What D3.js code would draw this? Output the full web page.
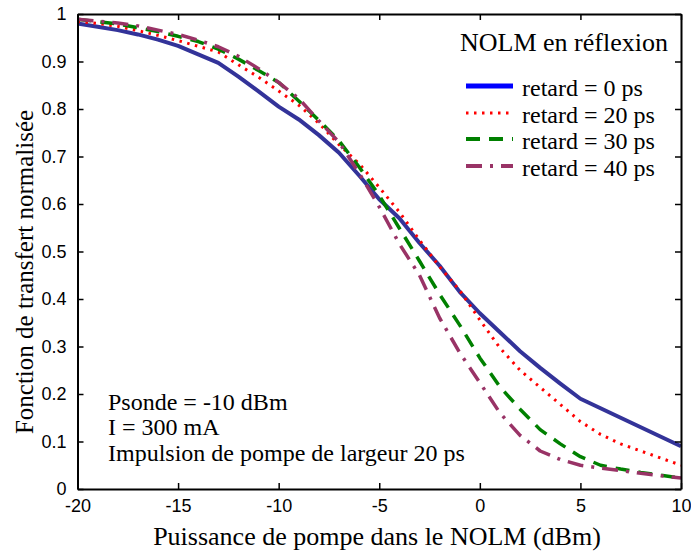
<!DOCTYPE html>
<html><head><meta charset="utf-8">
<script src="https://cdn.jsdelivr.net/npm/d3@7"></script>
<style>body{margin:0;background:#fff}svg{display:block}</style>
</head><body>
<svg id="c" width="691" height="552"></svg>
<script>
const pump = [-20,-19,-18,-17,-16,-15,-14,-13,-12,-11,-10,-9,-8,-7,-6,-5,-4,-3,-2,-1,0,1,2,3,4,5,6,7,8,9,10];
const delay0  = [0.980,0.973,0.966,0.957,0.946,0.933,0.915,0.897,0.868,0.837,0.805,0.778,0.745,0.708,0.660,0.610,0.570,0.518,0.470,0.415,0.370,0.330,0.290,0.255,0.222,0.190,0.170,0.150,0.130,0.110,0.090];
const delay20 = [0.984,0.980,0.974,0.965,0.955,0.944,0.932,0.920,0.893,0.867,0.838,0.808,0.770,0.725,0.685,0.635,0.583,0.524,0.468,0.418,0.356,0.297,0.250,0.214,0.178,0.142,0.115,0.095,0.080,0.065,0.050];
const delay30 = [0.989,0.984,0.979,0.971,0.963,0.953,0.942,0.926,0.905,0.881,0.856,0.817,0.776,0.733,0.678,0.618,0.549,0.480,0.410,0.345,0.276,0.215,0.168,0.125,0.095,0.068,0.050,0.042,0.035,0.029,0.023];
const delay40 = [0.989,0.985,0.981,0.975,0.966,0.957,0.945,0.931,0.911,0.885,0.856,0.822,0.775,0.730,0.665,0.594,0.516,0.450,0.360,0.287,0.224,0.160,0.113,0.080,0.062,0.050,0.044,0.039,0.033,0.028,0.023];
const seriesNames = ["retard = 0 ps","retard = 20 ps","retard = 30 ps","retard = 40 ps"];
const xTicks = [-20,-15,-10,-5,0,5,10];
const xTickLabels = ["-20","-15","-10","-5","0","5","10"];
const yTicks = [0,0.1,0.2,0.3,0.4,0.5,0.6,0.7,0.8,0.9,1];
const yTickLabels = ["0","0.1","0.2","0.3","0.4","0.5","0.6","0.7","0.8","0.9","1"];
const legendTitle = "NOLM en réflexion";
const notes = ["Psonde = -10 dBm","I = 300 mA","Impulsion de pompe de largeur 20 ps"];
const xTitle = "Puissance de pompe dans le NOLM (dBm)";
const yTitle = "Fonction de transfert normalisée";

const styles = [
  {color:"#333399", legendColor:"#0000ff", width:4, dash:null, lwidth:5},
  {color:"#ff0000", legendColor:"#ff0000", width:3, dash:"2.5,5.5", lwidth:3},
  {color:"#008000", legendColor:"#008000", width:3.5, dash:"14,9", lwidth:4},
  {color:"#993366", legendColor:"#993366", width:3.5, dash:"16,8,3,8", lwidth:4}
];
const allSeries = [delay0, delay20, delay30, delay40];

const svg = d3.select("#c");
const x = d3.scaleLinear().domain([-20,10]).range([77.5,681]);
const y = d3.scaleLinear().domain([0,1]).range([489,14]);

// curves
const line = d3.line().x((d,i)=>x(pump[i])).y(d=>y(d));
allSeries.forEach((s,k)=>{
  svg.append("path").datum(s).attr("d",line).attr("fill","none")
    .attr("stroke",styles[k].color).attr("stroke-width",styles[k].width)
    .attr("stroke-dasharray",styles[k].dash).attr("stroke-linejoin","round");
});

// axes (box with inward ticks)
const tickLen = 6;
const gB = svg.append("g").attr("transform",`translate(0,${y(0)})`)
  .call(d3.axisBottom(x).tickValues(xTicks).tickSizeInner(-tickLen).tickSizeOuter(0).tickPadding(10).tickFormat((d,i)=>xTickLabels[i]));
const gT = svg.append("g").attr("transform",`translate(0,${y(1)})`)
  .call(d3.axisTop(x).tickValues(xTicks).tickSizeInner(-tickLen).tickSizeOuter(0).tickFormat(""));
const gL = svg.append("g").attr("transform",`translate(${x(-20)},0)`)
  .call(d3.axisLeft(y).tickValues(yTicks).tickSizeInner(-tickLen).tickSizeOuter(0).tickPadding(11).tickFormat((d,i)=>yTickLabels[i]));
const gR = svg.append("g").attr("transform",`translate(${x(10)},0)`)
  .call(d3.axisRight(y).tickValues(yTicks).tickSizeInner(-tickLen).tickSizeOuter(0).tickFormat(""));
[gB,gT,gL,gR].forEach(g=>{
  g.select(".domain").attr("stroke","#000").attr("stroke-width",2);
  g.selectAll(".tick line").attr("stroke","#000").attr("stroke-width",1.5);
  g.selectAll("text").attr("font-family","'Liberation Sans', Arial, sans-serif").attr("font-size",18).attr("fill","#000");
});
gB.selectAll("text").attr("dy","0.71em");

const serif = "'Liberation Serif','Times New Roman',serif";
// titles
svg.append("text").attr("x",377).attr("y",545).attr("text-anchor","middle")
  .attr("font-family",serif).attr("font-size",26).text(xTitle);
svg.append("text").attr("transform","translate(33,272) rotate(-90)").attr("text-anchor","middle")
  .attr("font-family",serif).attr("font-size",25).text(yTitle);

// legend
svg.append("text").attr("x",460).attr("y",51).attr("font-family",serif).attr("font-size",26).text(legendTitle);
const rowY = [86,113,139,166];
seriesNames.forEach((n,k)=>{
  svg.append("line").attr("x1",466).attr("x2",513).attr("y1",rowY[k]).attr("y2",rowY[k])
    .attr("stroke",styles[k].legendColor).attr("stroke-width",styles[k].lwidth)
    .attr("stroke-dasharray",styles[k].dash);
  svg.append("text").attr("x",522).attr("y",rowY[k]+10).attr("font-family",serif).attr("font-size",24).text(n);
});

// notes
const noteY = [410,435,461];
notes.forEach((t,i)=>{
  svg.append("text").attr("x",108).attr("y",noteY[i]).attr("font-family",serif).attr("font-size",24).text(t);
});
</script>
</body></html>
